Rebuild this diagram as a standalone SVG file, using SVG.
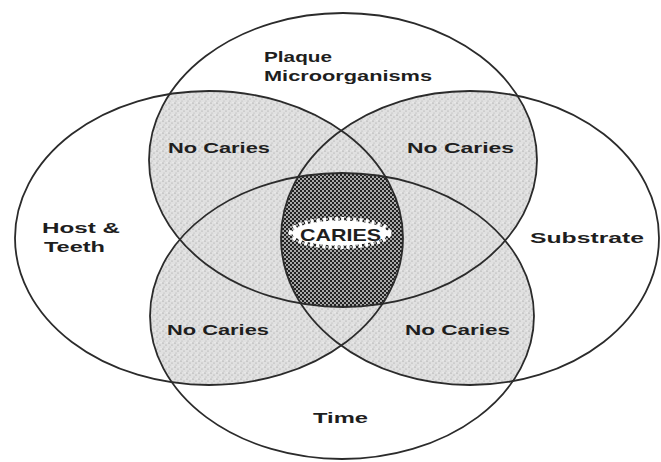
<svg xmlns="http://www.w3.org/2000/svg" width="661" height="462" viewBox="0 0 661 462">
  <style>
    .ring { fill: none; stroke: #2b2b2b; stroke-width: 1.8; }
    .lbl { font-family: "Liberation Sans", Arial, sans-serif; font-weight: bold; font-size: 15px; fill: #1e1e1e; }
    .big { font-size: 17px; }
  </style>
  <defs>
    <ellipse id="eP" cx="343" cy="160" rx="194" ry="147"/>
    <ellipse id="eH" cx="209" cy="238" rx="194" ry="147"/>
    <ellipse id="eS" cx="470" cy="238" rx="189" ry="147"/>
    <ellipse id="eT" cx="342" cy="316" rx="192" ry="143"/>
    <clipPath id="cP"><use href="#eP"/></clipPath>
    <clipPath id="cH"><use href="#eH"/></clipPath>
    <clipPath id="cS"><use href="#eS"/></clipPath>
    <clipPath id="cT"><use href="#eT"/></clipPath>
    <pattern id="stipple" patternUnits="userSpaceOnUse" width="6" height="6">
      <rect width="6" height="6" fill="#e0e0e0"/>
      <circle cx="1" cy="1" r="0.6" fill="#8c8c8c"/>
      <circle cx="4" cy="3" r="0.6" fill="#9a9a9a"/>
      <circle cx="2" cy="5" r="0.5" fill="#a8a8a8"/>
      <circle cx="5" cy="0.5" r="0.5" fill="#f6f6f6"/>
    </pattern>
    <pattern id="dark" patternUnits="userSpaceOnUse" width="4" height="4">
      <rect width="4" height="4" fill="#222222"/>
      <circle cx="1" cy="1" r="0.9" fill="#e8e8e8"/>
      <circle cx="3" cy="3" r="0.9" fill="#e8e8e8"/>
    </pattern>
  </defs>

  <rect width="661" height="462" fill="#ffffff"/>

  <g id="overlap-shading">
    <g clip-path="url(#cP)"><use href="#eH" fill="url(#stipple)"/><use href="#eS" fill="url(#stipple)"/><use href="#eT" fill="url(#stipple)"/></g>
    <g clip-path="url(#cT)"><use href="#eH" fill="url(#stipple)"/><use href="#eS" fill="url(#stipple)"/></g>
    <g clip-path="url(#cH)"><use href="#eS" fill="url(#stipple)"/></g>
    <g clip-path="url(#cP)"><g clip-path="url(#cT)"><g clip-path="url(#cH)"><use href="#eS" fill="url(#dark)"/></g></g></g>
    <ellipse cx="340" cy="233" rx="48" ry="12.5" fill="#ffffff" stroke="#ffffff" stroke-width="7" stroke-dasharray="3 3"/>
  </g>

  <g id="node-plaque">
    <use href="#eP" class="ring"/>
    <text class="lbl" x="264" y="62" textLength="68" lengthAdjust="spacingAndGlyphs">Plaque</text>
    <text class="lbl" x="264" y="81" textLength="168" lengthAdjust="spacingAndGlyphs">Microorganisms</text>
  </g>
  <g id="node-host">
    <use href="#eH" class="ring"/>
    <text class="lbl" x="42" y="233" textLength="78" lengthAdjust="spacingAndGlyphs">Host &amp;</text>
    <text class="lbl" x="44" y="252" textLength="61" lengthAdjust="spacingAndGlyphs">Teeth</text>
  </g>
  <g id="node-substrate">
    <use href="#eS" class="ring"/>
    <text class="lbl" x="530" y="243" textLength="114" lengthAdjust="spacingAndGlyphs">Substrate</text>
  </g>
  <g id="node-time">
    <use href="#eT" class="ring"/>
    <text class="lbl" x="313" y="423" textLength="55" lengthAdjust="spacingAndGlyphs">Time</text>
  </g>
  <g id="region-labels">
    <text class="lbl" x="168" y="153" textLength="102" lengthAdjust="spacingAndGlyphs">No Caries</text>
    <text class="lbl" x="407" y="153" textLength="107" lengthAdjust="spacingAndGlyphs">No Caries</text>
    <text class="lbl" x="167" y="335" textLength="102" lengthAdjust="spacingAndGlyphs">No Caries</text>
    <text class="lbl" x="405" y="335" textLength="105" lengthAdjust="spacingAndGlyphs">No Caries</text>
    <text class="lbl big" x="300" y="241" textLength="81" lengthAdjust="spacingAndGlyphs">CARIES</text>
  </g>
</svg>
